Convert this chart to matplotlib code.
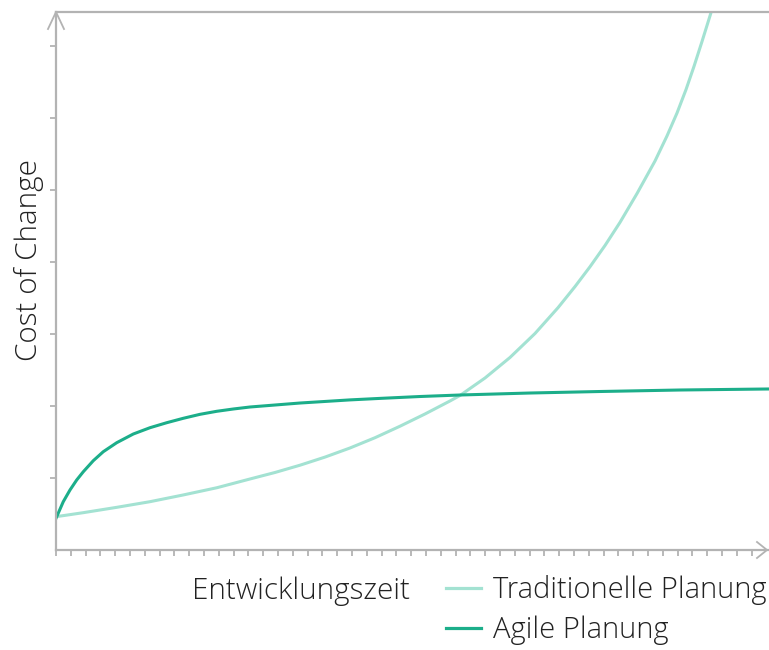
import numpy as np
import matplotlib
matplotlib.use("Agg")
import matplotlib.pyplot as plt
from matplotlib.lines import Line2D

# Development time (arbitrary units, 0-100) and cost of change (0-100)
time_trad = [0, 3.79, 8.56, 13.18, 17.81, 22.58, 27.21, 30.72, 34.22, 37.73, 41.23,
             44.74, 48.25, 51.75, 55.26, 56.66, 60.17, 63.67, 67.18, 70.41, 72.79,
             74.89, 77.00, 79.10, 81.49, 84.01, 85.69, 87.10, 88.36, 89.48, 90.60,
             91.72, 92.29]
cost_trad = [6.19, 6.93, 7.94, 8.98, 10.22, 11.58, 13.20, 14.41, 15.76, 17.27, 18.96,
             20.87, 23.01, 25.28, 27.70, 28.72, 31.97, 35.78, 40.24, 45.04, 48.96,
             52.64, 56.60, 60.89, 66.26, 72.30, 76.95, 81.23, 85.58, 89.89, 94.50,
             99.26, 101.71]

time_agile = [0, 1.02, 1.96, 2.90, 3.83, 5.23, 6.63, 8.51, 10.84, 13.18, 15.53, 17.85,
              20.20, 22.54, 24.87, 27.21, 34.22, 41.23, 45.44, 51.05, 56.66, 66.48,
              76.30, 87.52, 100.0]
cost_agile = [5.89, 8.98, 11.15, 13.01, 14.55, 16.60, 18.27, 19.94, 21.56, 22.73, 23.66,
              24.48, 25.22, 25.78, 26.21, 26.58, 27.32, 27.90, 28.18, 28.53, 28.81,
              29.18, 29.46, 29.74, 29.93]

labels = ["Traditionelle Planung", "Agile Planung"]
xlabel = "Entwicklungszeit"
ylabel = "Cost of Change"

C_TRAD = "#a3e2d2"
C_AGILE = "#1cae8a"
C_AXIS = "#b3b3b3"
C_TEXT = "#222222"

W, H = 769, 650
plt.rcParams["font.family"] = ["Open Sans", "DejaVu Sans"]
fig = plt.figure(figsize=(W / 100, H / 100), dpi=100)

def fx(px):
    return px / W

def fy(py):
    return 1 - py / H

ax = fig.add_axes([fx(56), fy(550), fx(769) - fx(56), fy(12) - fy(550)])
ax.set_xlim(0, 100)
ax.set_ylim(0, 100)

ax.plot(time_trad, cost_trad, color=C_TRAD, lw=2.2, solid_joinstyle="round",
        label=labels[0])
ax.plot(time_agile, cost_agile, color=C_AGILE, lw=2.2, solid_joinstyle="round",
        label=labels[1])

for side in ["left", "bottom", "top"]:
    ax.spines[side].set_color(C_AXIS)
    ax.spines[side].set_linewidth(1.6)
ax.spines["right"].set_visible(False)

ystep = 72 / 5.38
ax.set_yticks([ystep * k for k in range(1, 8)])
xstep = 14.8 / 7.13
ax.set_xticks(np.arange(0, 98, xstep))
ax.tick_params(axis="both", color=C_AXIS, width=1.3, length=4.5,
               labelleft=False, labelbottom=False)

# arrowheads at the ends of the axes
for xs, ys in ([(48, 56, 64), (29, 12, 29)], [(757, 767, 757), (542, 550, 558)]):
    fig.add_artist(Line2D([fx(v) for v in xs], [fy(v) for v in ys],
                          transform=fig.transFigure, color=C_AXIS, lw=1.3))

fig.text(fx(29), fy(260), ylabel, rotation=90, ha="center", va="center",
         fontsize=21.3, color=C_TEXT, fontweight="light")
fig.text(fx(301), fy(591), xlabel, ha="center", va="center",
         fontsize=21.3, color=C_TEXT, fontweight="light")

leg = ax.legend(loc="center left", bbox_to_anchor=(fx(446), fy(610)),
                bbox_transform=fig.transFigure, frameon=False, fontsize=21,
                handlelength=1.2, handletextpad=0.42, labelspacing=0.38,
                borderaxespad=0, borderpad=0)
for t in leg.get_texts():
    t.set_color(C_TEXT)
    t.set_fontweight("light")
for h in leg.legend_handles:
    h.set_linewidth(2.3)

fig.savefig("out.png", dpi=100)
